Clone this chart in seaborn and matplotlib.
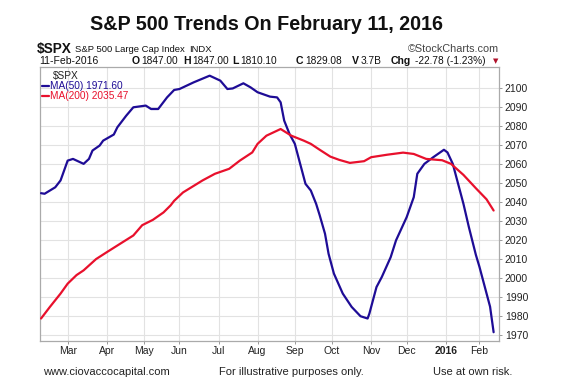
import numpy as np
import pandas as pd
import matplotlib
matplotlib.use("Agg")
import matplotlib.pyplot as plt
from matplotlib.lines import Line2D
import seaborn as sns

# ---------------------------------------------------------------------------
# Data
# ---------------------------------------------------------------------------
# NYSE holidays inside the window -> the x axis runs on trading days
HOLIDAYS = ["2015-02-16", "2015-04-03", "2015-05-25", "2015-07-03", "2015-09-07",
            "2015-11-26", "2015-12-25", "2016-01-01", "2016-01-18", "2016-02-15"]

MA50_DATES = [
    "2015-02-06", "2015-02-10", "2015-02-19", "2015-02-24", "2015-03-02", "2015-03-05",
    "2015-03-13", "2015-03-18", "2015-03-20", "2015-03-26", "2015-03-30", "2015-04-08",
    "2015-04-10", "2015-04-17", "2015-04-23", "2015-05-04", "2015-05-07", "2015-05-13",
    "2015-05-20", "2015-05-27", "2015-06-01", "2015-06-11", "2015-06-24", "2015-07-02",
    "2015-07-09", "2015-07-14", "2015-07-22", "2015-07-28", "2015-08-03", "2015-08-12",
    "2015-08-18", "2015-08-20", "2015-08-24", "2015-08-27", "2015-09-01", "2015-09-04",
    "2015-09-10", "2015-09-15", "2015-09-18", "2015-09-22", "2015-09-25", "2015-09-29",
    "2015-10-02", "2015-10-09", "2015-10-16", "2015-10-23", "2015-10-29", "2015-10-30",
    "2015-11-05", "2015-11-10", "2015-11-17", "2015-11-20", "2015-12-01", "2015-12-07",
    "2015-12-09", "2015-12-15", "2015-12-22", "2015-12-31", "2016-01-05", "2016-01-08",
    "2016-01-13", "2016-01-19", "2016-01-22", "2016-01-28", "2016-02-01", "2016-02-04",
    "2016-02-09", "2016-02-11",
]
MA50_VALUES = [
    2044.6, 2044.3, 2047.7, 2051.3, 2061.7, 2062.6,
    2060.0, 2062.6, 2067.0, 2069.6, 2072.2, 2075.4,
    2079.2, 2085.3, 2089.7, 2090.6, 2088.8, 2088.8,
    2094.9, 2098.8, 2099.3, 2102.8, 2106.3, 2103.7,
    2099.3, 2099.6, 2102.3, 2100.2, 2097.6, 2095.3,
    2094.9, 2092.3, 2082.7, 2075.7, 2070.5, 2060.0,
    2049.5, 2046.0, 2039.0, 2033.0, 2023.3, 2012.8,
    2002.4, 1991.9, 1984.9, 1980.0, 1978.8, 1981.4,
    1995.3, 2000.6, 2011.0, 2019.8, 2032.0, 2042.5,
    2054.8, 2060.0, 2063.5, 2067.4, 2066.0, 2060.0,
    2049.5, 2039.0, 2027.0, 2012.2, 2006.0, 1995.5,
    1985.0, 1971.6,
]

MA200_DATES = [
    "2015-02-06", "2015-02-13", "2015-02-24", "2015-03-02", "2015-03-09", "2015-03-13",
    "2015-03-24", "2015-04-01", "2015-04-14", "2015-04-23", "2015-04-30", "2015-05-08",
    "2015-05-18", "2015-05-22", "2015-05-27", "2015-06-03", "2015-06-18", "2015-06-29",
    "2015-07-10", "2015-07-20", "2015-07-29", "2015-08-03", "2015-08-10", "2015-08-20",
    "2015-08-28", "2015-09-09", "2015-09-15", "2015-09-22", "2015-09-30", "2015-10-07",
    "2015-10-15", "2015-10-27", "2015-11-02", "2015-11-13", "2015-11-27", "2015-12-07",
    "2015-12-16", "2015-12-30", "2016-01-07", "2016-01-19", "2016-01-28", "2016-02-05",
    "2016-02-11",
]
MA200_VALUES = [
    1978.8, 1984.9, 1991.9, 1997.1, 2001.6, 2004.1,
    2010.0, 2013.6, 2018.3, 2022.4, 2027.8, 2030.6,
    2034.5, 2038.2, 2040.6, 2045.0, 2051.3, 2054.8,
    2057.4, 2061.7, 2066.0, 2070.5, 2074.8, 2078.3,
    2074.8, 2072.2, 2070.5, 2067.4, 2063.8, 2062.1,
    2060.5, 2061.4, 2063.5, 2064.8, 2065.9, 2065.2,
    2062.6, 2061.9, 2060.0, 2054.2, 2047.2, 2041.4,
    2035.5,
]

MONTH_STARTS = ["2015-03-01", "2015-04-01", "2015-05-01", "2015-06-01", "2015-07-01",
                "2015-08-01", "2015-09-01", "2015-10-01", "2015-11-01", "2015-12-01",
                "2016-01-01", "2016-02-01"]
MONTH_LABELS = ["Mar", "Apr", "May", "Jun", "Jul", "Aug", "Sep", "Oct", "Nov", "Dec",
                "2016", "Feb"]
Y_TICKS = list(range(1970, 2101, 10))

BLUE = "#1e0c96"
RED = "#e8102c"
W, H = 567, 385

# ---------------------------------------------------------------------------
# Trading-day x positions
# ---------------------------------------------------------------------------
days = pd.bdate_range("2015-02-06", "2016-02-26")
days = days[~days.isin(pd.to_datetime(HOLIDAYS))]


def tpos(dates):
    return days.searchsorted(pd.to_datetime(dates))


df = pd.concat([
    pd.DataFrame({"x": tpos(MA50_DATES), "value": MA50_VALUES, "series": "MA(50)"}),
    pd.DataFrame({"x": tpos(MA200_DATES), "value": MA200_VALUES, "series": "MA(200)"}),
])

sns.set_theme(style="white")
plt.rcParams["font.family"] = ["Liberation Sans", "DejaVu Sans"]

fig = plt.figure(figsize=(W / 100, H / 100), dpi=100)
ax = fig.add_axes([39.8 / W, 1 - 340.6 / H, (499.3 - 39.8) / W, (340.6 - 67.3) / H])

sns.lineplot(data=df, x="x", y="value", hue="series", estimator=None, sort=False,
             palette={"MA(50)": BLUE, "MA(200)": RED}, linewidth=1.6,
             legend=False, ax=ax, zorder=3)

ax.set_xlim(-0.7, tpos(["2016-02-11"])[0] + 3.2)
ax.set_ylim(1967.2, 2110.7)
ax.set_xlabel("")
ax.set_ylabel("")

# y axis on the right
ax.yaxis.tick_right()
ax.set_yticks(Y_TICKS)
ax.set_yticklabels([str(v) for v in Y_TICKS], fontsize=7.5, color="#222222")

month_pos = tpos(MONTH_STARTS)
ax.set_xticks(month_pos)
ax.set_xticklabels(MONTH_LABELS, fontsize=7.5, color="#222222")
for lbl in ax.get_xticklabels():
    if lbl.get_text() == "2016":
        lbl.set_fontweight("bold")

ax.tick_params(axis="both", length=2.5, width=0.7, color="#999999", pad=1.5,
               bottom=True, right=True, left=False)
ax.grid(True, color="#e2e2e2", linewidth=0.8)
ax.set_axisbelow(True)
for sp in ax.spines.values():
    sp.set_color("#aaaaaa")
    sp.set_linewidth(0.9)


def put(x, y, s, **kw):
    kw.setdefault("va", "center")
    kw.setdefault("ha", "left")
    kw.setdefault("fontsize", 7.5)
    kw.setdefault("color", "#111111")
    fig.text(x / W, 1 - y / H, s, **kw)


# Title
put(266, 24, "S&P 500 Trends On February 11, 2016", ha="center", fontsize=14.2,
    fontweight="bold")

# Header line 1
put(36.7, 48.5, "$SPX", fontsize=9.8, fontweight="bold")
put(75, 49, "S&P 500 Large Cap Index", fontsize=6.8)
put(189, 49, "INDX", fontsize=6.8)
put(499.3, 48.5, "\u00a9StockCharts.com", ha="right", fontsize=7.8, color="#444444")

# Header line 2
put(39.3, 61.5, "11-Feb-2016")
for x, s, bold in [(131.5, "O", True), (141, "1847.00", False),
                   (183.5, "H", True), (192.5, "1847.00", False),
                   (232, "L", True), (240.5, "1810.10", False),
                   (296, "C", True), (305.5, "1829.08", False),
                   (352, "V", True), (361, "3.7B", False),
                   (390.5, "Chg", True), (415, "-22.78 (-1.23%)", False)]:
    put(x, 61.5, s, fontweight="bold" if bold else "normal",
        fontsize=7.6 if bold else 7.3)
put(496, 61.5, "\u25bc", ha="center", fontsize=5, color="#b0102a",
    family=["DejaVu Sans"])

# In-plot legend
put(53.3, 75.7, "$SPX", fontsize=7.3, color="#222222")
for y, s, c in [(85.7, "MA(50) 1971.60", BLUE), (95.7, "MA(200) 2035.47", RED)]:
    fig.add_artist(Line2D([41.7 / W, 49.3 / W], [1 - y / H, 1 - y / H],
                          color=c, linewidth=1.6, transform=fig.transFigure))
    put(50, y, s, fontsize=7.3, color=c)

# Footer
put(43, 372, "www.ciovaccocapital.com", fontsize=8, color="#222222")
put(219, 372, "For illustrative purposes only.", fontsize=8, color="#222222")
put(433, 372, "Use at own risk.", fontsize=8, color="#222222")

fig.savefig("out.png", dpi=100)
